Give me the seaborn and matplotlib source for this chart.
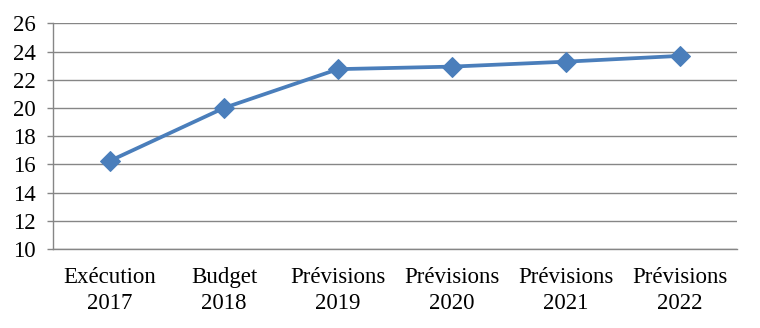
import matplotlib
matplotlib.use("Agg")
import matplotlib.pyplot as plt
import seaborn as sns
import pandas as pd
import numpy as np

categories = ["Exécution\n2017", "Budget\n2018", "Prévisions\n2019",
              "Prévisions\n2020", "Prévisions\n2021", "Prévisions\n2022"]
values = [16.25, 20.0, 22.75, 22.93, 23.28, 23.69]
yticks = [10, 12, 14, 16, 18, 20, 22, 24, 26]

sns.set_theme(style="white")
plt.rcParams["font.family"] = ["Liberation Serif", "DejaVu Serif"]

df = pd.DataFrame({"cat": categories, "val": values})
df["pos"] = np.arange(len(categories))

fig = plt.figure(figsize=(7.6, 3.28), dpi=100)
ax = fig.add_axes([53/760, 1-249/328, (737-53)/760, (249-23.3)/328])

sns.lineplot(data=df, x="pos", y="val", ax=ax, color="#4A7EBB", linewidth=2.7,
             marker="D", markersize=10, markeredgecolor="#4A7EBB", sort=False, zorder=3)

ax.set_xlim(-0.5, len(categories) - 0.5)
ax.set_ylim(10, 26)
ax.set_yticks(yticks)
ax.set_yticklabels([str(t) for t in yticks], fontsize=16.5)
ax.set_xticks(np.arange(len(categories)))
ax.set_xticklabels(categories, fontsize=16.5, linespacing=1.3)
ax.set_xticks(np.arange(-0.5, len(categories)), minor=True)
ax.tick_params(axis="x", which="major", length=0, pad=13)
ax.tick_params(axis="x", which="minor", length=6, width=1, color="#868686", direction="out")
ax.tick_params(axis="y", length=4.5, width=1, color="#868686", direction="out", pad=8, left=True)
ax.grid(axis="y", color="#868686", linewidth=1)
ax.set_axisbelow(True)
for s in ["top", "right"]:
    ax.spines[s].set_visible(False)
for s in ["left", "bottom"]:
    ax.spines[s].set_color("#868686")
    ax.spines[s].set_linewidth(1)
ax.set_xlabel("")
ax.set_ylabel("")
for lab in ax.get_xticklabels() + ax.get_yticklabels():
    lab.set_color("black")

fig.savefig("out.png", dpi=100)
